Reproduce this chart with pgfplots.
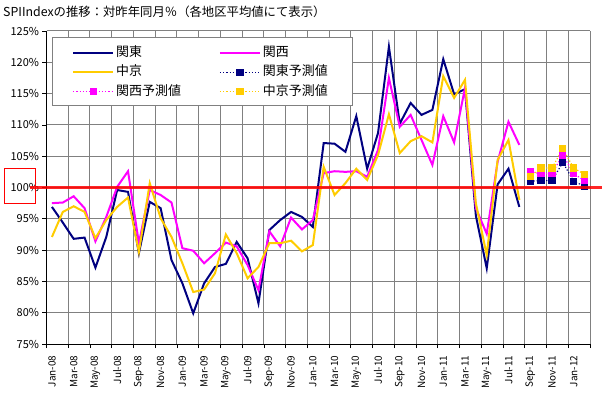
\documentclass[border=0pt]{standalone}
\usepackage{fontspec}
\setmainfont{Noto Sans CJK JP}
\usepackage{pgfplots}
\usepackage{pgfplotstable}
\pgfplotsset{compat=1.18}
\definecolor{kanto}{RGB}{0,0,128}
\definecolor{kansai}{RGB}{255,0,255}
\definecolor{chukyo}{RGB}{255,204,0}
\definecolor{gridgray}{RGB}{128,128,128}

\pgfplotstableread{
x kanto kansai chukyo
0 96.9 97.5 92.1
1 94.4 97.6 96.1
2 91.8 98.6 97.0
3 92.0 96.7 96.1
4 87.2 91.4 91.9
5 92.1 95.3 94.8
6 99.6 100.1 96.9
7 99.3 102.6 98.4
8 89.5 91.1 89.7
9 97.7 99.6 100.7
10 96.7 98.8 95.1
11 88.4 97.6 92.1
12 84.7 90.3 87.9
13 79.9 89.9 83.3
14 84.7 87.9 83.7
15 87.3 89.5 86.3
16 87.8 91.2 92.5
17 91.3 90.6 89.5
18 88.7 87.6 85.5
19 81.5 83.6 87.3
20 93.2 93.0 91.1
21 94.8 90.6 91.1
22 96.1 95.2 91.5
23 95.3 93.3 89.8
24 93.7 94.8 90.8
25 107.1 102.3 103.3
26 107.0 102.6 98.8
27 105.7 102.5 100.7
28 111.4 102.6 103.0
29 103.0 101.7 101.2
30 108.7 106.0 105.2
31 122.5 117.5 111.7
32 110.2 109.7 105.5
33 113.5 111.6 107.4
34 111.6 107.6 108.2
35 112.4 103.6 107.2
36 120.5 111.4 117.8
37 114.9 107.2 114.3
38 115.7 115.9 117.2
39 95.5 96.7 97.5
40 87.1 92.6 89.2
41 100.5 104.1 104.4
42 103.0 110.5 107.6
43 96.9 106.8 98.0
}\actual

\pgfplotstableread{
x kanto kansai chukyo
44 101.0 102.5 101.7
45 101.1 102.2 103.1
46 101.1 102.2 103.1
47 104.0 105.2 106.2
48 101.0 102.2 103.1
49 100.2 101.1 102.1
}\forecast

\begin{document}
\begin{tikzpicture}
\begin{axis}[
  at={(0,0)}, anchor=south west,
  scale only axis, width=543.5bp, height=313bp,
  xmin=-0.5, xmax=49.5, ymin=75, ymax=125,
  axis x line=bottom, axis y line=left,
  axis line style={-, black, line width=1bp},
  tick align=outside, major tick length=4bp,
  tick style={black, line width=0.8bp},
  ytick={75,80,...,125},
  yticklabel={\pgfmathprintnumber{\tick}\%},
  /pgf/number format/assume math mode=true,
  yticklabel style={font=\fontsize{11}{13}\selectfont},
  xtick={-0.5,1.5,...,49.5},
  xticklabels={},
  extra x ticks={0,2,...,48},
  extra x tick labels={Jan-08,Mar-08,May-08,Jul-08,Sep-08,Nov-08,Jan-09,Mar-09,May-09,Jul-09,Sep-09,Nov-09,Jan-10,Mar-10,May-10,Jul-10,Sep-10,Nov-10,Jan-11,Mar-11,May-11,Jul-11,Sep-11,Nov-11,Jan-12},
  extra x tick style={major tick length=0pt, grid=none,
     tick label style={rotate=90, anchor=east, font=\fontsize{10}{12}\selectfont}},
  xticklabel shift=8bp,
  xmajorgrids, ymajorgrids,
  grid style={gridgray, line width=1bp},
  legend columns=2,
  legend cell align=left,
  legend image code/.code={
    \draw[mark repeat=2,mark phase=2,#1] plot coordinates {(0bp,0bp) (20bp,0bp) (40bp,0bp)};
  },
  legend style={draw=none, fill=none, inner sep=0pt,
     at={(rel axis cs:0,1)}, anchor=north west,
     xshift=25.5bp, yshift=-14.5bp,
     font=\fontsize{13}{15}\selectfont,
     nodes={inner sep=2bp, text height=0.85em, text depth=0.15em},
     row sep=5.5bp,
     /tikz/every even column/.append style={column sep=36bp}},
]
\coordinate (L) at (axis cs:-0.5,100);
\coordinate (R) at (axis cs:49.5,100);
\draw[draw=gridgray, fill=white, line width=1bp]
  ([shift={(6.2bp,238bp)}]rel axis cs:0,0) rectangle ([shift={(305.8bp,306.3bp)}]rel axis cs:0,0);
\addplot[kanto, line width=2bp, mark=none] table[x=x, y=kanto] {\actual};
\addlegendentry{関東}
\addplot[kansai, line width=2bp, mark=none] table[x=x, y=kansai] {\actual};
\addlegendentry{関西}
\addplot[chukyo, line width=2bp, mark=none] table[x=x, y=chukyo] {\actual};
\addlegendentry{中京}
\addplot[kanto, line width=1.2bp, dotted, mark=square*, mark size=3bp, mark options={solid}] table[x=x, y=kanto] {\forecast};
\addlegendentry{関東予測値}
\addplot[kansai, line width=1.2bp, dotted, mark=square*, mark size=3bp, mark options={solid}] table[x=x, y=kansai] {\forecast};
\addlegendentry{関西予測値}
\addplot[chukyo, line width=1.2bp, dotted, mark=square*, mark size=3bp, mark options={solid}] table[x=x, y=chukyo] {\forecast};
\addlegendentry{中京予測値}
\end{axis}
\draw[red, line width=2.2bp, opacity=0.85] ([xshift=-16.5bp]L) -- ([xshift=12bp]R);
\draw[red, line width=1bp] ([shift={(-41.5bp,-16.5bp)}]L) rectangle ([shift={(-10.5bp,18.5bp)}]L);
\node[anchor=west, inner sep=0pt, font=\fontsize{12.4}{14}\selectfont] at (-43.5bp,332bp)
  {SPIIndexの推移：対昨年同月％（各地区平均値にて表示）};
\pgfresetboundingbox
\useasboundingbox (-46.5bp,-54bp) rectangle (555.5bp,344bp);
\end{tikzpicture}
\end{document}
